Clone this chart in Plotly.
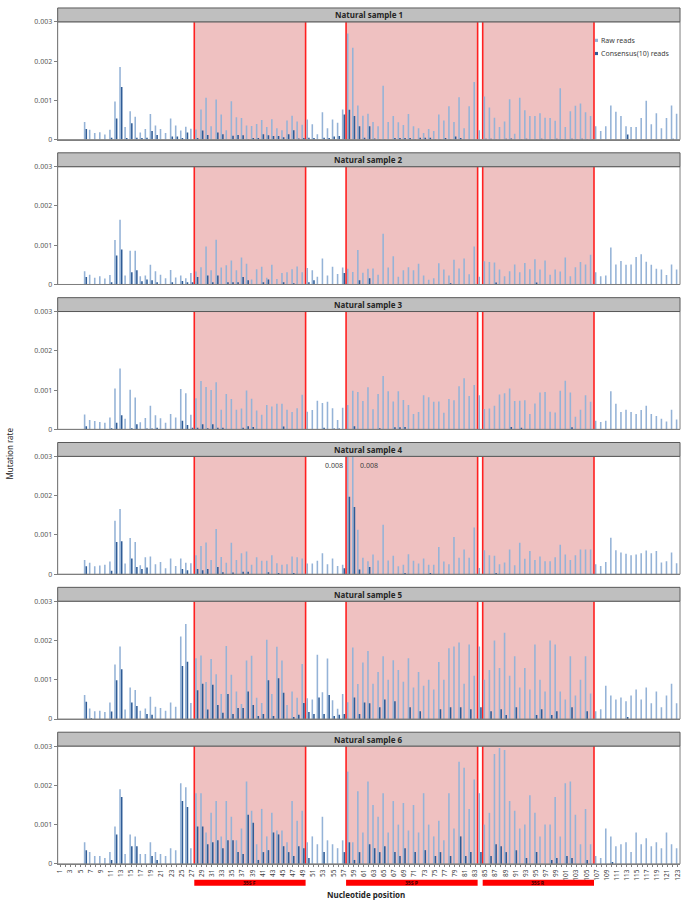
import plotly.graph_objects as go

# ---------------- data (mutation rate, in units of 1e-3) ----------------
positions = list(range(1, 124))
tick_labels = [str(p) if p % 2 == 1 else "" for p in positions]
panel_titles = ["Natural sample 1", "Natural sample 2", "Natural sample 3",
                "Natural sample 4", "Natural sample 5", "Natural sample 6"]
regions = [(27.5, 49.5, "35S F"), (57.5, 83.5, "35S P"), (84.5, 106.5, "35S R")]
series_names = ["Raw reads", "Consensus(10) reads"]

raw1 = [0, 0, 0, 0, 0, 0.45, 0.25, 0.17, 0.19, 0.13,
        0.25, 0.97, 1.85, 0.32, 0.72, 0.58, 0.18, 0.27, 0.65, 0.36,
        0.27, 0.17, 0.54, 0.36, 0.23, 0.33, 0.28, 0.26, 0.77, 1.07,
        0.34, 1.02, 0.64, 0.24, 0.98, 0.57, 0.55, 0.36, 0.35, 0.40,
        0.50, 0.32, 0.52, 0.29, 0.24, 0.49, 0.61, 0.46, 0.38, 0.51,
        0.39, 0.14, 0.70, 0.29, 0.51, 0.43, 0.77, 2.70, 2.34, 0.87,
        0.61, 0.66, 0.45, 0.34, 1.37, 0.45, 0.60, 0.44, 0.37, 0.65,
        0.34, 0.29, 0.17, 0.27, 0.22, 0.64, 0.49, 0.85, 0.45, 1.08,
        0.29, 0.85, 1.47, 0.24, 1.10, 0.82, 0.56, 0.32, 0.46, 1.03,
        0.15, 1.07, 0.75, 0.60, 0.60, 0.67, 0.56, 0.55, 0.48, 1.31,
        0.32, 0.72, 0.86, 0.92, 0.70, 0.60, 0.34, 0.22, 0.34, 0.87,
        0.71, 0.60, 0.34, 0.32, 0.32, 0.55, 0.99, 0.39, 0.67, 0.29,
        0.55, 0.87, 0.66]
con1 = [0, 0, 0, 0, 0, 0.27, 0, 0, 0, 0,
        0.05, 0.54, 1.34, 0.04, 0.42, 0.05, 0.04, 0.05, 0.22, 0.12,
        0, 0, 0.08, 0.08, 0.04, 0.18, 0, 0.04, 0.23, 0.12,
        0, 0.18, 0.14, 0, 0.10, 0.12, 0.11, 0.01, 0.04, 0.04,
        0.14, 0.11, 0.09, 0.09, 0.06, 0.14, 0.24, 0.03, 0.04, 0.05,
        0.04, 0, 0.05, 0.04, 0.08, 0.09, 0.64, 0.76, 0.60, 0.34,
        0.05, 0.34, 0.03, 0.01, 0.01, 0, 0.04, 0.04, 0.04, 0.04,
        0.01, 0.05, 0.05, 0.05, 0.01, 0.01, 0.04, 0.01, 0.08, 0.04,
        0, 0, 0, 0, 0.02, 0.02, 0.01, 0, 0.02, 0.03,
        0, 0.01, 0.02, 0, 0.01, 0.02, 0, 0.01, 0.02, 0.01,
        0, 0.02, 0.01, 0.02, 0.01, 0.01, 0, 0, 0, 0,
        0, 0, 0.13, 0, 0, 0, 0, 0, 0, 0,
        0, 0.02, 0]

raw2 = [0, 0, 0, 0, 0, 0.34, 0.25, 0.17, 0.21, 0.15,
        0.24, 1.13, 1.65, 0.23, 0.86, 0.86, 0.21, 0.23, 0.50, 0.34,
        0.25, 0.16, 0.37, 0.18, 0.23, 0.16, 0.29, 0.33, 0.44, 0.97,
        0.36, 1.14, 0.43, 0.49, 0.61, 0.36, 0.69, 0.53, 0.13, 0.39,
        0.45, 0.17, 0.50, 0.14, 0.29, 0.31, 0.39, 0.46, 0.31, 0.42,
        0.36, 0.20, 0.66, 0.23, 0.45, 0.27, 0.43, 0.40, 0.32, 0.88,
        0.30, 0.40, 0.41, 0.25, 1.29, 0.43, 0.72, 0.20, 0.36, 0.44,
        0.36, 0.53, 0.23, 0.12, 0.16, 0.54, 0.38, 0.23, 0.63, 0.41,
        0.66, 0.26, 0.97, 0.20, 0.59, 0.57, 0.56, 0.38, 0.21, 0.34,
        0.51, 0.31, 0.55, 0.39, 0.64, 0.38, 0.61, 0.25, 0.38, 0.33,
        0.69, 0.21, 0.44, 0.57, 0.51, 0.76, 0.31, 0.21, 0.23, 0.94,
        0.51, 0.60, 0.50, 0.51, 0.70, 0.77, 0.58, 0.50, 0.40, 0.38,
        0.24, 0.51, 0.38]
con2 = [0, 0, 0, 0, 0, 0.19, 0, 0, 0, 0,
        0.06, 0.74, 0.89, 0, 0.31, 0.36, 0.08, 0.13, 0.11, 0.06,
        0, 0.01, 0.06, 0, 0.09, 0.06, 0.06, 0.19, 0, 0.23,
        0.06, 0.23, 0, 0.06, 0.06, 0.06, 0.19, 0.11, 0, 0,
        0.06, 0.13, 0, 0, 0.06, 0, 0.03, 0, 0, 0.06,
        0.11, 0, 0, 0, 0, 0, 0.29, 0, 0, 0.11,
        0, 0.16, 0.01, 0, 0.01, 0, 0, 0, 0, 0,
        0, 0, 0, 0, 0, 0, 0, 0.03, 0.01, 0,
        0.01, 0, 0.01, 0, 0.01, 0, 0.05, 0, 0, 0.01,
        0, 0, 0, 0, 0.05, 0, 0.01, 0, 0, 0,
        0, 0, 0, 0.01, 0, 0, 0, 0, 0, 0,
        0, 0, 0, 0, 0, 0, 0, 0, 0, 0,
        0, 0, 0]

raw3 = [0, 0, 0, 0, 0, 0.38, 0.24, 0.21, 0.19, 0.17,
        0.30, 1.04, 1.55, 0.27, 1.01, 0.81, 0.18, 0.29, 0.60, 0.36,
        0.28, 0.17, 0.39, 0.30, 1.03, 0.92, 0.37, 0.79, 1.23, 1.08,
        1.00, 1.20, 0.50, 0.90, 0.77, 0.50, 0.53, 0.99, 0.78, 0.48,
        0.37, 0.62, 0.58, 0.65, 0.65, 0.50, 0.44, 0.54, 0.88, 0.45,
        0.49, 0.73, 0.67, 0.70, 0.54, 0.24, 0.55, 0.62, 0.98, 0.95,
        0.72, 1.07, 0.51, 0.90, 1.36, 0.97, 0.71, 0.97, 0.75, 0.62,
        0.39, 0.44, 0.87, 0.82, 0.70, 0.71, 0.42, 0.77, 0.74, 1.10,
        1.30, 0.85, 1.13, 0.87, 0.52, 0.53, 0.60, 0.89, 0.92, 1.04,
        0.72, 0.73, 0.74, 0.39, 0.66, 0.94, 0.95, 0.45, 0.43, 0.98,
        1.24, 0.94, 0.32, 0.50, 0.87, 0.70, 0.22, 0.19, 0.22, 0.97,
        0.65, 0.44, 0.50, 0.44, 0.39, 0.49, 0.60, 0.39, 0.34, 0.27,
        0.20, 0.50, 0.25]
con3 = [0, 0, 0, 0, 0, 0.08, 0, 0, 0, 0,
        0.03, 0.17, 0.36, 0, 0.03, 0.13, 0, 0.02, 0.02, 0.04,
        0, 0, 0, 0, 0.22, 0.11, 0.04, 0.04, 0.13, 0.03,
        0.13, 0.04, 0.04, 0, 0, 0, 0.04, 0.08, 0.06, 0,
        0, 0, 0, 0, 0.07, 0, 0, 0, 0, 0,
        0, 0, 0.04, 0, 0.02, 0.02, 0, 0, 0.08, 0,
        0, 0, 0, 0.03, 0, 0, 0.05, 0.05, 0.06, 0,
        0, 0, 0, 0, 0, 0, 0, 0, 0, 0,
        0, 0, 0, 0, 0, 0, 0, 0, 0, 0.06,
        0, 0.04, 0, 0, 0, 0, 0, 0, 0, 0,
        0, 0.05, 0, 0, 0, 0, 0, 0, 0, 0,
        0, 0, 0, 0, 0, 0, 0, 0, 0, 0,
        0, 0, 0]

raw4 = [0, 0, 0, 0, 0, 0.36, 0.29, 0.20, 0.22, 0.24,
        0.32, 1.36, 1.66, 0.27, 0.92, 0.82, 0.23, 0.43, 0.45, 0.25,
        0.31, 0.15, 0.40, 0.21, 0.40, 0.29, 0.28, 0.48, 0.72, 0.81,
        0.36, 1.15, 0.44, 0.29, 0.80, 0.36, 0.53, 0.58, 0.24, 0.43,
        0.34, 0.34, 0.48, 0.28, 0.24, 0.25, 0.45, 0.43, 0.40, 0.27,
        0.27, 0.34, 0.53, 0.25, 0.40, 0.21, 0.24, 8.00, 8.00, 1.13,
        0.42, 0.33, 0.50, 0.35, 1.26, 0.35, 0.47, 0.20, 0.24, 0.51,
        0.34, 0.27, 0.40, 0.24, 0.24, 0.69, 0.32, 0.25, 0.95, 0.42,
        0.63, 0.42, 1.19, 0.16, 0.61, 0.48, 0.47, 0.25, 0.30, 0.63,
        0.23, 0.80, 0.39, 0.59, 0.36, 0.45, 0.33, 0.33, 0.43, 0.75,
        0.50, 0.36, 0.48, 0.63, 0.63, 0.63, 0.25, 0.21, 0.31, 0.93,
        0.61, 0.55, 0.52, 0.48, 0.50, 0.53, 0.60, 0.53, 0.59, 0.30,
        0.33, 0.55, 0.28]
con4 = [0, 0, 0, 0, 0, 0.20, 0, 0, 0, 0,
        0.09, 0.82, 0.84, 0, 0.40, 0.18, 0.13, 0.17, 0, 0,
        0, 0, 0, 0, 0.13, 0.10, 0, 0.13, 0.10, 0.13,
        0, 0.18, 0.05, 0, 0.04, 0, 0.06, 0.06, 0, 0,
        0, 0.05, 0, 0.03, 0, 0, 0.03, 0, 0, 0,
        0, 0, 0, 0, 0, 0, 0.15, 1.97, 1.71, 0.12,
        0, 0.18, 0, 0, 0, 0, 0, 0, 0.03, 0,
        0, 0, 0, 0.03, 0, 0, 0, 0, 0, 0,
        0, 0, 0, 0, 0, 0, 0.03, 0, 0, 0,
        0, 0, 0, 0, 0, 0, 0, 0, 0, 0,
        0, 0, 0, 0, 0, 0, 0, 0, 0, 0,
        0, 0, 0, 0, 0, 0, 0, 0, 0, 0,
        0, 0, 0]

raw5 = [0, 0, 0, 0, 0, 0.61, 0.27, 0.20, 0.21, 0.18,
        0.42, 1.39, 1.85, 0.24, 0.80, 0.74, 0.21, 0.27, 0.57, 0.31,
        0.28, 0.21, 0.42, 0.31, 2.10, 2.42, 0.41, 1.55, 1.62, 0.94,
        1.53, 1.14, 0.64, 1.86, 1.13, 0.70, 0.38, 1.49, 1.61, 0.54,
        0.41, 2.02, 0.64, 1.84, 1.49, 0.36, 0.70, 0.54, 1.40, 0.53,
        0.50, 1.64, 0.68, 1.54, 0.48, 0.26, 0.64, 0.43, 1.82, 0.89,
        1.44, 1.73, 0.90, 1.20, 1.60, 1.00, 1.50, 1.25, 0.95, 1.55,
        0.80, 1.20, 0.85, 1.00, 0.75, 1.45, 1.00, 1.80, 1.85, 1.95,
        0.90, 1.90, 1.10, 1.85, 1.00, 1.25, 2.00, 1.30, 2.20, 1.10,
        1.60, 0.80, 1.30, 0.75, 1.90, 1.00, 0.70, 2.00, 1.90, 0.70,
        0.50, 1.60, 0.60, 1.00, 1.60, 0.65, 0.20, 0.25, 0.85, 0.60,
        0.50, 0.55, 0.45, 0.60, 0.75, 0.50, 0.80, 0.40, 0.70, 0.30,
        0.60, 0.90, 0.40]
con5 = [0, 0, 0, 0, 0, 0.44, 0.02, 0, 0, 0,
        0.19, 0.99, 1.27, 0, 0.42, 0.33, 0, 0.13, 0.11, 0,
        0, 0, 0, 0, 1.35, 1.46, 0, 0.73, 0.90, 0.24,
        0.87, 0.36, 0.16, 0.64, 0.13, 0.28, 0.28, 0.70, 0.36, 0.08,
        0.13, 0.99, 0.08, 1.04, 0.67, 0, 0.05, 0.11, 0.41, 0.18,
        0.13, 0.55, 0.13, 0.61, 0.08, 0.11, 0.13, 0, 0.55, 0.13,
        0.42, 0.40, 0, 0.30, 0.50, 0, 0.45, 0, 0, 0.30,
        0, 0.20, 0, 0, 0, 0.25, 0, 0.30, 0, 0.30,
        0, 0.25, 0, 0.30, 0, 0.20, 0, 0.25, 0.10, 0,
        0.30, 0, 0, 0, 0.10, 0.25, 0, 0.10, 0.20, 0,
        0, 0.30, 0, 0, 0.20, 0, 0, 0, 0, 0,
        0, 0, 0.05, 0, 0, 0, 0, 0, 0, 0,
        0, 0, 0]

raw6 = [0, 0, 0, 0, 0, 0.55, 0.30, 0.20, 0.20, 0.15,
        0.30, 0.95, 1.90, 0.25, 0.75, 0.70, 0.25, 0.25, 0.55, 0.30,
        0.25, 0.20, 0.40, 0.35, 2.05, 1.95, 0.40, 1.80, 1.80, 0.80,
        1.30, 1.60, 0.70, 1.60, 1.20, 0.60, 0.90, 2.10, 1.35, 0.50,
        1.40, 0.70, 1.30, 0.85, 0.85, 0.55, 1.60, 1.10, 1.35, 0.55,
        0.70, 0.50, 1.20, 0.60, 0.50, 0.40, 0.60, 2.35, 0.55, 1.85,
        0.80, 2.10, 1.50, 1.20, 1.80, 0.80, 1.60, 1.00, 1.55, 0.85,
        1.50, 0.80, 1.80, 1.00, 0.70, 1.10, 0.60, 1.80, 0.90, 2.60,
        2.45, 1.40, 2.15, 1.80, 1.00, 1.30, 2.80, 2.95, 2.90, 1.60,
        1.35, 0.90, 1.00, 1.75, 1.30, 0.70, 1.00, 1.00, 1.70, 0.70,
        2.05, 2.10, 1.25, 0.50, 1.40, 0.50, 0.20, 0.15, 0.90, 0.70,
        0.45, 0.50, 0.55, 0.30, 0.80, 0.50, 0.65, 0.45, 0.55, 0.40,
        0.80, 0.50, 0.40]
con6 = [0, 0, 0, 0, 0, 0.35, 0, 0, 0, 0,
        0.10, 0.75, 1.70, 0, 0.45, 0.45, 0, 0, 0.20, 0.10,
        0, 0, 0, 0, 1.60, 1.45, 0, 0.95, 0.95, 0.50,
        0.55, 0.60, 0.40, 0.60, 0.60, 0.30, 0.25, 1.25, 1.05, 0.10,
        0.30, 0.35, 0.80, 0.75, 0.45, 0.30, 0.20, 0.45, 0.40, 0.15,
        0, 0, 0.30, 0, 0, 0, 0.30, 0.55, 0.10, 0.30,
        0, 0.50, 0.40, 0.30, 0.45, 0, 0.30, 0.20, 0.40, 0,
        0.30, 0, 0.35, 0, 0.20, 0.30, 0, 0.20, 0, 0.70,
        0.20, 0.30, 0, 0.30, 0, 0.20, 0.50, 0.45, 0.30, 0,
        0.35, 0, 0.15, 0, 0.30, 0, 0, 0.10, 0.15, 0,
        0.20, 0.15, 0, 0, 0.10, 0, 0, 0, 0, 0.05,
        0, 0, 0, 0, 0, 0, 0, 0, 0, 0,
        0, 0, 0]

raw_series = [raw1, raw2, raw3, raw4, raw5, raw6]
con_series = [con1, con2, con3, con4, con5, con6]

# ---------------- layout constants ----------------
W, H = 685, 906
X0, X1 = 56, 682
STEP = 146.3
LIGHT = "#95B3D7"
DARK = "#2F5C96"
FONT = "Noto Sans"


def py(px):
    return 1 - px / H


def pxx(px):
    return px / W


fig = go.Figure()
shapes = []
annotations = []
layout_axes = {}

for i in range(6):
    n = i + 1
    head_top = 3 + i * STEP
    plot_top = 17 + i * STEP
    plot_bot = 136 + i * STEP
    xs = "x" if n == 1 else f"x{n}"
    ys = "y" if n == 1 else f"y{n}"
    raw = [v / 1000 for v in raw_series[i]]
    con = [v / 1000 for v in con_series[i]]
    fig.add_trace(go.Bar(x=positions, y=raw, xaxis=xs, yaxis=ys, name=series_names[0],
                         marker=dict(color=LIGHT, line=dict(width=0)),
                         width=0.31, offset=-0.33, showlegend=False))
    fig.add_trace(go.Bar(x=positions, y=con, xaxis=xs, yaxis=ys, name=series_names[1],
                         marker=dict(color=DARK, line=dict(width=0)),
                         width=0.31, offset=0.0, showlegend=False))
    xkey = "xaxis" if n == 1 else f"xaxis{n}"
    ykey = "yaxis" if n == 1 else f"yaxis{n}"
    bottom = (i == 5)
    layout_axes[xkey] = dict(
        domain=[pxx(X0), pxx(X1)], anchor=ys, range=[0.5, 123.5],
        showgrid=False, zeroline=False, showline=True, linecolor="#7f7f7f", linewidth=1,
        tickmode="array", tickvals=positions,
        ticktext=tick_labels if bottom else [""] * 123,
        ticks="outside" if bottom else "", ticklen=2, tickcolor="#7f7f7f",
        tickangle=-90, tickfont=dict(family=FONT, size=6.5, color="#404040"),
        showticklabels=bottom, fixedrange=True)
    layout_axes[ykey] = dict(
        domain=[py(plot_bot), py(plot_top)], anchor=xs, range=[0, 0.003],
        tickmode="array", tickvals=[0, 0.001, 0.002, 0.003],
        ticktext=["0", "0.001", "0.002", "0.003"],
        showgrid=False, zeroline=False, showline=True, linecolor="#7f7f7f", linewidth=1,
        ticks="outside", ticklen=3, tickcolor="#7f7f7f",
        tickfont=dict(family=FONT, size=7, color="#595959"), fixedrange=True)

    # shaded regions
    for (a, b, _) in regions:
        shapes.append(dict(type="rect", xref=xs, yref=f"{ys} domain", x0=a, x1=b, y0=0, y1=1,
                           fillcolor="#EFC1C1", line=dict(width=0), layer="below"))
        for xv in (a, b):
            shapes.append(dict(type="line", xref=xs, yref=f"{ys} domain", x0=xv, x1=xv, y0=0, y1=1,
                               line=dict(color="#FF2020", width=1.6), layer="below"))
    # plot frame
    shapes.append(dict(type="rect", xref="paper", yref="paper", x0=pxx(X0), x1=pxx(X1),
                       y0=py(plot_bot), y1=py(plot_top), line=dict(color="#7f7f7f", width=1),
                       fillcolor="rgba(0,0,0,0)", layer="above"))
    # header strip
    shapes.append(dict(type="rect", xref="paper", yref="paper", x0=pxx(X0), x1=pxx(X1),
                       y0=py(plot_top), y1=py(head_top), line=dict(color="#595959", width=1),
                       fillcolor="#BFBFBF", layer="above"))
    annotations.append(dict(x=pxx((X0 + X1) / 2), y=py((head_top + plot_top) / 2), xref="paper",
                            yref="paper", text="<b>" + panel_titles[i] + "</b>", showarrow=False,
                            font=dict(family=FONT, size=8, color="#262626"),
                            xanchor="center", yanchor="middle"))

# legend (drawn in panel 1)
for j, (col, nm) in enumerate([(LIGHT, series_names[0]), (DARK, series_names[1])]):
    yc = 35.7 + j * 13.3
    shapes.append(dict(type="rect", xref="paper", yref="paper", x0=pxx(596.5), x1=pxx(599.5),
                       y0=py(yc + 1.6), y1=py(yc - 1.6), fillcolor=col, line=dict(width=0)))
    annotations.append(dict(x=pxx(601), y=py(yc), xref="paper", yref="paper", text=nm,
                            showarrow=False, xanchor="left", yanchor="middle",
                            font=dict(family=FONT, size=7, color="#404040")))

# truncated values labels in panel 4
p4_top = 17 + 3 * STEP
annotations.append(dict(x=pxx(345), y=py(p4_top + 9), xref="paper", yref="paper", text="0.008",
                        showarrow=False, xanchor="right", yanchor="middle",
                        font=dict(family=FONT, size=7, color="#404040")))
annotations.append(dict(x=pxx(358), y=py(p4_top + 9), xref="paper", yref="paper", text="0.008",
                        showarrow=False, xanchor="left", yanchor="middle",
                        font=dict(family=FONT, size=7, color="#404040")))

# region bars below the bottom axis
for (a, b, lab) in regions:
    shapes.append(dict(type="rect", xref="x6", yref="paper", x0=a, x1=b, y0=py(889.5), y1=py(883.5),
                       fillcolor="#FF0000", line=dict(width=0), layer="below"))
    annotations.append(dict(x=(a + b) / 2, y=py(886.5), xref="x6", yref="paper", text="<b>" + lab + "</b>",
                            showarrow=False, xanchor="center", yanchor="middle",
                            font=dict(family=FONT, size=5, color="#3a0000")))

# axis titles
annotations.append(dict(x=pxx(8), y=py(453), xref="paper", yref="paper", text="Mutation rate",
                        textangle=-90, showarrow=False, xanchor="center", yanchor="middle",
                        font=dict(family=FONT, size=8, color="#262626")))
annotations.append(dict(x=pxx(366), y=py(898), xref="paper", yref="paper",
                        text="<b>Nucleotide position</b>", showarrow=False,
                        xanchor="center", yanchor="middle",
                        font=dict(family=FONT, size=8, color="#262626")))

fig.update_layout(
    width=W, height=H, margin=dict(l=0, r=0, t=0, b=0),
    paper_bgcolor="white", plot_bgcolor="white",
    barmode="overlay", showlegend=False,
    shapes=shapes, annotations=annotations, **layout_axes)

fig.write_html("out.html",
               config={"displayModeBar": False, "staticPlot": True},
               post_script="document.body.style.margin='0';"
                           "document.body.style.overflow='hidden';"
                           "document.documentElement.style.overflow='hidden';")
